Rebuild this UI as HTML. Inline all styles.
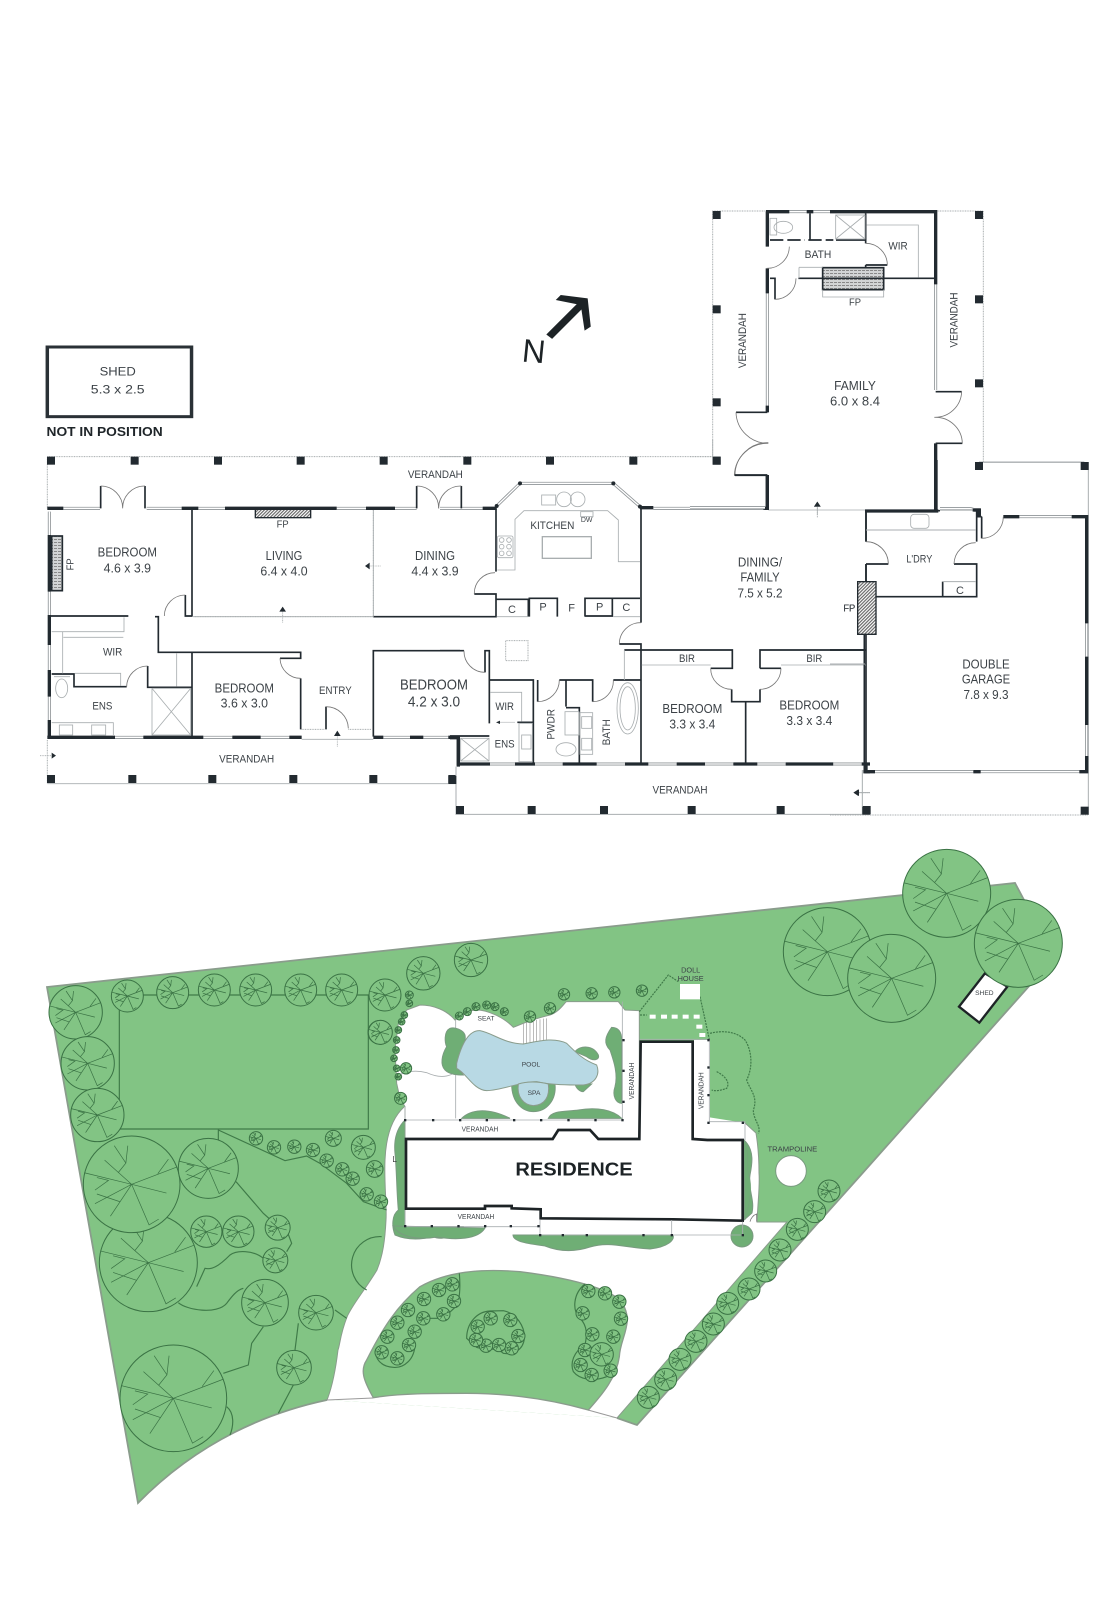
<!DOCTYPE html>
<html><head><meta charset="utf-8"><style>
html,body{margin:0;padding:0;background:#fff}
svg{display:block}
text{font-family:"Liberation Sans",sans-serif;fill:#3c4247;text-anchor:middle;font-size:39px}
.s{font-size:33px}.xs{font-size:30px}
.w{stroke:#222a30;stroke-width:10;fill:none}
.m{stroke:#222a30;stroke-width:5;fill:none}
.g{stroke:#a9aeb0;stroke-width:2.5;fill:none}
.d{stroke:#a9aeb0;stroke-width:3;fill:none;stroke-dasharray:3 2}
.a{stroke:#777;stroke-width:2.5;fill:none}
.p{fill:#222a30;stroke:none}
.ln{stroke:#3f7a48;stroke-width:3.5;fill:none}
.bed{fill:#6fae75;stroke:#7a9a80;stroke-width:3}
#t *{vector-effect:non-scaling-stroke}
.st text{font-size:23px}
</style></head><body>
<svg width="1115" height="1600" viewBox="0 0 1115 1600" xmlns="http://www.w3.org/2000/svg">
<defs>
<pattern id="h" width="7" height="7" patternUnits="userSpaceOnUse" patternTransform="rotate(45)"><rect width="7" height="7" fill="#fff"/><rect width="3.5" height="7" fill="#666"/></pattern>
<pattern id="hz" width="12" height="9" patternUnits="userSpaceOnUse"><rect width="12" height="9" fill="#d2d4d5"/><rect width="9" height="3" fill="#888"/></pattern>
<g id="t"><circle r="50" fill="#82c484" stroke="#3a7244" stroke-width="1"/><path d="M0,0L-49,-12M0,0L47,-18M0,0L36,9M0,0L-38,20M0,0L-22,33M0,0L18,42L28,36M-12,18L-36,10M-36,-7L-24,-4L-38,6M0,0L-28,-25M-14,-12L-6,-22L-4,-40M-6,-22L-18,-40M27,-11L38,-26" fill="none" stroke="#3a7244" stroke-width=".7"/></g>
</defs>

<!-- SITE PLAN -->
<path d="M47,987L1015,883L1023,898L1045,940L1030,985L860,1176L637,1425L617,1418L327,1400C270,1412 200,1440 138,1503Z" fill="#82c484"/>
<path d="M327,1400C270,1412 200,1440 138,1503L47,987L1015,883L1023,898L1045,940L1030,985L860,1176L637,1425L617,1418" fill="none" stroke="#8a9c8c" stroke-width="1.8"/>
<path d="M404,1107C392,1118 386,1135 385,1160C384,1185 387,1205 386,1220C385,1240 383,1255 377,1270C365,1290 352,1305 347,1317C340,1335 340,1345 338,1350C335,1375 331,1390 327,1400L617,1418L787,1222L757,1222C758,1200 760,1185 759,1173C759,1150 757,1140 756,1133L745,1123L600,1100Z" fill="#fff"/>
<path d="M404,1107C392,1118 386,1135 385,1160C384,1185 387,1205 386,1220C385,1240 383,1255 377,1270C365,1290 352,1305 347,1317C340,1335 340,1345 338,1350C335,1375 331,1390 327,1400M617,1418L787,1222L757,1222C758,1200 760,1185 759,1173C759,1150 757,1140 756,1133L745,1123" fill="none" stroke="#8a9c8c" stroke-width="1"/>
<path d="M327,1400L373,1398M588,1410L617,1418" stroke="#999" fill="none"/>

<g transform="translate(30,950) scale(.33333)">
<path class="ln" d="M268,135H1015V537H268ZM565,537V575M565,540L765,632L830,618L870,640L950,700L1000,755L1070,780M618,695L700,790L720,808M770,840L785,880L770,905M445,1058C470,1080 560,1095 590,1060C605,1040 620,1020 640,1015M500,1010L525,955C545,960 565,950 600,915C620,900 670,900 700,925M580,1270L655,1245L665,1180L700,1130M795,1200L805,1120M915,1080L950,1105M790,1305L745,1390M590,1370C615,1390 610,1430 600,1455M1055,860A85,85 0 0 0 1010,1020"/>
<use href="#t" transform="translate(355,938) scale(2.94)"/>
<use href="#t" transform="translate(305,703) scale(2.9)"/>
<use href="#t" transform="translate(430,1345) scale(3.2)"/>
<use href="#t" transform="translate(535,655) scale(1.8)"/>
<use href="#t" transform="translate(137,187) scale(1.6)"/>
<use href="#t" transform="translate(173,340) scale(1.6)"/>
<use href="#t" transform="translate(202,495) scale(1.6)"/>
<use href="#t" transform="translate(292,138) scale(.96)"/>
<use href="#t" transform="translate(428,128) scale(.96)"/>
<use href="#t" transform="translate(553,120) scale(.96)"/>
<use href="#t" transform="translate(677,120) scale(.96)"/>
<use href="#t" transform="translate(812,120) scale(.96)"/>
<use href="#t" transform="translate(935,120) scale(.96)"/>
<use href="#t" transform="translate(1065,135) scale(.96)"/>
<use href="#t" transform="translate(1050,247) scale(.72)"/>
<use href="#t" transform="translate(529,845) scale(.94)"/>
<use href="#t" transform="translate(625,845) scale(.94)"/>
<use href="#t" transform="translate(743,833) scale(.75)"/>
<use href="#t" transform="translate(736,931) scale(.75)"/>
<use href="#t" transform="translate(705,1058) scale(1.4)"/>
<use href="#t" transform="translate(858,1088) scale(1.04)"/>
<use href="#t" transform="translate(792,1253) scale(1.04)"/>
<use href="#t" transform="translate(1000,592) scale(.72)"/>
<use href="#t" transform="translate(1034,657) scale(.5)"/>
<use href="#t" transform="translate(678,565) scale(.4)"/>
<use href="#t" transform="translate(732,592) scale(.4)"/>
<use href="#t" transform="translate(793,590) scale(.4)"/>
<use href="#t" transform="translate(849,600) scale(.4)"/>
<use href="#t" transform="translate(910,565) scale(.48)"/>
<use href="#t" transform="translate(890,632) scale(.4)"/>
<use href="#t" transform="translate(937,658) scale(.4)"/>
<use href="#t" transform="translate(968,686) scale(.4)"/>
<use href="#t" transform="translate(1010,733) scale(.4)"/>
<use href="#t" transform="translate(1053,755) scale(.4)"/>
</g>

<g transform="translate(750,830) scale(.33333)">
<use href="#t" transform="translate(232,365) scale(2.64)"/>
<use href="#t" transform="translate(425,445) scale(2.64)"/>
<use href="#t" transform="translate(590,190) scale(2.64)"/>
<path d="M705,430L772,470L688,578L627,530Z" fill="#fff" stroke="#1d2326" stroke-width="7"/>
<use href="#t" transform="translate(805,340) scale(2.64)"/>
<text x="703" y="495" style="font-size:20px">SHED</text>
</g>

<!-- oval lawn -->
<g transform="translate(340,1230) scale(.33333)">
<path d="M100,503C70,450 60,420 80,390C130,290 170,230 240,170C320,125 420,115 540,125C620,135 700,150 760,170C820,190 860,210 862,270C860,310 840,340 838,380C830,440 790,490 745,540C620,505 500,490 380,490C280,490 180,490 100,503Z" fill="#82c484" stroke="#8a9c8c" stroke-width="4"/>
<path class="ln" d="M380,325C380,280 410,245 450,243L490,242C530,250 555,290 553,325C550,360 520,375 490,370C470,350 430,360 410,352ZM358,130C362,180 360,220 342,235L310,265L270,265M225,340C225,390 190,415 160,412C130,410 110,395 105,365M735,162C700,190 695,240 720,265C745,290 740,320 735,345C700,365 690,400 700,425C720,450 760,455 800,440"/>
<use href="#t" transform="translate(745,183) scale(.4)"/><use href="#t" transform="translate(795,190) scale(.4)"/><use href="#t" transform="translate(838,215) scale(.4)"/><use href="#t" transform="translate(843,266) scale(.4)"/><use href="#t" transform="translate(820,320) scale(.4)"/><use href="#t" transform="translate(757,313) scale(.4)"/><use href="#t" transform="translate(728,250) scale(.4)"/><use href="#t" transform="translate(735,360) scale(.4)"/><use href="#t" transform="translate(722,405) scale(.4)"/><use href="#t" transform="translate(755,435) scale(.4)"/><use href="#t" transform="translate(812,422) scale(.4)"/><use href="#t" transform="translate(785,373) scale(.7)"/>
<use href="#t" transform="translate(125,367) scale(.4)"/><use href="#t" transform="translate(172,385) scale(.4)"/><use href="#t" transform="translate(207,345) scale(.4)"/><use href="#t" transform="translate(224,305) scale(.4)"/><use href="#t" transform="translate(250,265) scale(.4)"/><use href="#t" transform="translate(310,253) scale(.4)"/><use href="#t" transform="translate(342,213) scale(.4)"/><use href="#t" transform="translate(337,163) scale(.4)"/><use href="#t" transform="translate(297,180) scale(.4)"/><use href="#t" transform="translate(252,207) scale(.4)"/><use href="#t" transform="translate(204,240) scale(.4)"/><use href="#t" transform="translate(172,278) scale(.4)"/><use href="#t" transform="translate(142,320) scale(.4)"/>
<use href="#t" transform="translate(413,290) scale(.4)"/><use href="#t" transform="translate(452,265) scale(.4)"/><use href="#t" transform="translate(511,270) scale(.4)"/><use href="#t" transform="translate(535,318) scale(.4)"/><use href="#t" transform="translate(515,355) scale(.4)"/><use href="#t" transform="translate(477,345) scale(.4)"/><use href="#t" transform="translate(438,347) scale(.4)"/><use href="#t" transform="translate(408,330) scale(.4)"/>
</g>

<!-- strip trees + trampoline -->
<g transform="translate(600,1090) scale(.33333)" class="st">
<use href="#t" transform="translate(145,922) scale(.66)"/><use href="#t" transform="translate(197,868) scale(.66)"/><use href="#t" transform="translate(240,808) scale(.66)"/><use href="#t" transform="translate(288,754) scale(.66)"/><use href="#t" transform="translate(340,702) scale(.66)"/><use href="#t" transform="translate(383,640) scale(.66)"/><use href="#t" transform="translate(447,597) scale(.66)"/><use href="#t" transform="translate(497,543) scale(.66)"/><use href="#t" transform="translate(540,480) scale(.66)"/><use href="#t" transform="translate(592,418) scale(.66)"/><use href="#t" transform="translate(644,365) scale(.66)"/><use href="#t" transform="translate(687,303) scale(.66)"/>
<circle cx="573" cy="243" r="46" fill="#fff" stroke="#7a9a80" stroke-width="3"/>
<text x="577" y="185">TRAMPOLINE</text>
<path d="M450,395C452,385 460,375 470,372V395" stroke="#777" fill="none" stroke-width="2.5"/>
</g>

<!-- west and south beds -->
<g transform="translate(340,1020) scale(.33333)">
<path class="bed" d="M195,300C175,320 160,350 165,400C170,450 170,520 175,570C155,585 155,620 165,645C200,660 240,660 280,650C310,665 340,640 370,635L370,620L195,620Z"/>
<use href="#t" transform="translate(121,37) scale(.72)"/>
<use href="#t" transform="translate(182,234) scale(.36)"/>
<path d="M160,408V425H170" stroke="#333" stroke-width="2" fill="none"/>
</g>
<path class="bed" style="stroke-width:1" d="M393,1226C400,1238 420,1240 437,1237C455,1240 478,1240 485,1228Z"/>
<path class="bed" style="stroke-width:1" d="M513,1235C513,1242 530,1244 545,1246C560,1252 575,1252 590,1247C610,1241 625,1248 650,1249C668,1247 675,1240 673,1235Z"/>
<circle cx="742" cy="1236" r="11" fill="#6fae75" stroke="#7a9a80"/>
<path class="bed" style="stroke-width:1" d="M744,1140C755,1150 752,1165 750,1175C748,1190 755,1200 752,1213L744,1220Z"/>

<!-- garden around residence -->
<g transform="translate(370,940) scale(.33333)">
<path d="M105,600V500L90,475L80,430L75,330L85,250L110,210L150,195C190,195 230,210 255,240C280,220 300,210 320,210C350,210 400,230 430,262C460,250 480,240 540,225C570,215 585,185 590,185H745L765,210L808,212V600Z" fill="#fff" stroke="#8a9c8c" stroke-width="3"/>
<path class="g" d="M80,408C110,392 140,390 170,398C200,412 225,412 245,403M257,240V535M757,185V540M105,500V540"/>
<path d="M810,298V215L895,105L925,125L935,110L990,170L1000,215L1018,298Z" fill="#82c484"/>
<path class="ln" d="M808,215L895,105L925,125M990,170L1000,215L1018,298M810,225H830M1020,280C1060,270 1100,275 1125,300C1145,330 1150,380 1130,420C1140,450 1165,470 1150,510C1150,540 1175,560 1165,580M1040,395C1070,410 1080,430 1070,445C1055,450 1040,455 1025,450" stroke-dasharray="6 3"/>
<rect x="930" y="132" width="60" height="46" fill="#fff"/>
<g fill="#fff"><rect x="839" y="224" width="18" height="12"/><rect x="873" y="224" width="18" height="12"/><rect x="905" y="224" width="18" height="12"/><rect x="938" y="224" width="18" height="12"/><rect x="971" y="224" width="18" height="12"/><rect x="979" y="254" width="18" height="12"/><rect x="988" y="279" width="18" height="12"/></g>
<use href="#t" transform="translate(160,100) scale(1)"/><use href="#t" transform="translate(303,60) scale(1)"/>
<use href="#t" transform="translate(582,163) scale(.34)"/><use href="#t" transform="translate(665,160) scale(.34)"/><use href="#t" transform="translate(733,157) scale(.34)"/><use href="#t" transform="translate(816,152) scale(.34)"/><use href="#t" transform="translate(540,205) scale(.34)"/><use href="#t" transform="translate(480,230) scale(.34)"/>
<use href="#t" transform="translate(350,195) scale(.24)"/><use href="#t" transform="translate(318,200) scale(.24)"/><use href="#t" transform="translate(292,215) scale(.24)"/><use href="#t" transform="translate(375,200) scale(.24)"/><use href="#t" transform="translate(403,215) scale(.24)"/><use href="#t" transform="translate(268,228) scale(.24)"/>
<use href="#t" transform="translate(92,475) scale(.36)"/><use href="#t" transform="translate(108,385) scale(.34)"/>
<use href="#t" transform="translate(118,165) scale(.24)"/><use href="#t" transform="translate(118,190) scale(.2)"/><use href="#t" transform="translate(103,225) scale(.2)"/><use href="#t" transform="translate(95,245) scale(.2)"/><use href="#t" transform="translate(85,270) scale(.2)"/><use href="#t" transform="translate(80,300) scale(.2)"/><use href="#t" transform="translate(78,330) scale(.2)"/><use href="#t" transform="translate(72,355) scale(.2)"/><use href="#t" transform="translate(80,385) scale(.2)"/><use href="#t" transform="translate(85,410) scale(.2)"/>
<!-- white stairs -->
<path d="M460,250V312M470,247V312M480,245V312M490,243V312M500,240V310M510,238V308M520,236V305M530,235V302" stroke="#999" stroke-width="2" fill="none"/>
<!-- beds -->
<path class="bed" d="M425,432C425,490 460,515 490,515C530,515 560,480 555,432Z"/>
<path class="bed" d="M240,265C220,275 225,310 230,320C215,345 210,375 225,390C240,405 265,405 280,405L260,380C270,340 290,310 285,285C280,270 255,260 240,265Z"/>
<path class="bed" d="M615,335C630,315 670,315 685,345C690,360 670,365 650,350Z"/>
<path class="bed" d="M615,432H665L640,455C630,455 618,445 615,432Z"/>
<path class="bed" d="M725,262C745,262 755,275 755,300V490C740,490 725,470 735,440C745,400 730,360 720,330C700,310 705,290 725,262Z"/>
<path class="bed" d="M275,535C300,510 350,500 420,535Z"/>
<path class="bed" d="M535,535C545,510 590,515 625,510C680,500 730,510 755,535Z"/>
<!-- pool -->
<path d="M260,370C270,330 290,270 330,272C370,280 400,310 460,312C500,305 550,290 590,310C620,340 640,360 680,375C690,400 680,430 640,435C600,435 540,435 500,425C450,425 400,450 350,452C310,450 290,400 260,385Z" fill="#b8d9e4" stroke="#8a9c8c" stroke-width="3"/>
<path d="M445,432C440,470 460,495 490,497C525,495 540,470 535,432C505,424 470,424 445,432Z" fill="#b8d9e4" stroke="#8a9c8c" stroke-width="3"/>
<!-- verandah east -->
<path d="M972,300H1020V545H1122V600H972Z" fill="#fff"/>
<path class="g" d="M810,298H1018V545H1125V600M105,540H757"/>
<path class="bed" style="stroke-width:1" d="M1122,600C1140,640 1130,680 1135,700C1150,740 1140,780 1125,840Z"/>
<!-- house -->
<path d="M108,597L548,597L565,570L660,570L685,597L808,597L812,305L968,305L968,597L1012,600L1118,600L1118,842L910,838L512,835L512,808L425,805L425,798L345,798L345,806L108,806Z" fill="#fff" stroke="#1d2326" stroke-width="8"/>
<path class="g" d="M105,810V860H510V840M510,860V885H1118V845M905,840V885"/>
<g class="p"><rect x="186" y="537" width="7" height="7"/><rect x="267" y="537" width="7" height="7"/><rect x="347" y="537" width="7" height="7"/><rect x="429" y="537" width="7" height="7"/><rect x="510" y="537" width="7" height="7"/><rect x="592" y="537" width="7" height="7"/><rect x="673" y="537" width="7" height="7"/><rect x="754" y="537" width="7" height="7"/><rect x="102" y="537" width="7" height="7"/>
<rect x="757" y="297" width="7" height="7"/><rect x="757" y="389" width="7" height="7"/><rect x="757" y="482" width="7" height="7"/>
<rect x="1012" y="297" width="7" height="7"/><rect x="1012" y="379" width="7" height="7"/><rect x="1012" y="462" width="7" height="7"/><rect x="1012" y="545" width="7" height="7"/><rect x="1115" y="545" width="7" height="7"/>
<rect x="102" y="855" width="7" height="7"/><rect x="182" y="855" width="7" height="7"/><rect x="262" y="855" width="7" height="7"/><rect x="342" y="855" width="7" height="7"/><rect x="419" y="855" width="7" height="7"/><rect x="502" y="855" width="7" height="7"/>
<rect x="507" y="882" width="7" height="7"/><rect x="575" y="882" width="7" height="7"/><rect x="647" y="882" width="7" height="7"/><rect x="817" y="882" width="7" height="7"/><rect x="902" y="882" width="7" height="7"/><rect x="1115" y="882" width="7" height="7"/></g>
<g style="font-size:20px">
<text x="348" y="241" style="font-size:20px">SEAT</text>
<text x="483" y="379" style="font-size:20px">POOL</text>
<text x="492" y="465" style="font-size:20px">SPA</text>
<text x="330" y="574" style="font-size:21px" textLength="110" lengthAdjust="spacingAndGlyphs">VERANDAH</text>
<text x="318" y="837" style="font-size:21px" textLength="110" lengthAdjust="spacingAndGlyphs">VERANDAH</text>
<text transform="translate(792,423) rotate(-90)" style="font-size:21px" textLength="110" lengthAdjust="spacingAndGlyphs">VERANDAH</text>
<text transform="translate(1000,452) rotate(-90)" style="font-size:21px" textLength="110" lengthAdjust="spacingAndGlyphs">VERANDAH</text>
<text x="962" y="97" style="font-size:22px">DOLL</text>
<text x="962" y="123" style="font-size:22px">HOUSE</text>
<text x="612" y="707" style="font-size:56px;font-weight:700;fill:#1d2326" textLength="352" lengthAdjust="spacingAndGlyphs">RESIDENCE</text>
</g>
</g>

<!-- SHED + NORTH -->
<g transform="translate(30,280) scale(.3846,.33333)">
<rect x="45" y="201" width="375" height="209" fill="#fff" stroke="#2a3136" stroke-width="9"/>
<text x="228" y="287" style="font-size:37px" textLength="94" lengthAdjust="spacingAndGlyphs">SHED</text>
<text x="228" y="341" style="font-size:37px" textLength="140" lengthAdjust="spacingAndGlyphs">5.3 x 2.5</text>
<text x="194" y="468" style="font-size:38px;font-weight:700;fill:#1f2529" textLength="302" lengthAdjust="spacingAndGlyphs">NOT IN POSITION</text>
<text transform="translate(1307,247) rotate(5)" style="font-size:98px;fill:#1d2326" textLength="60" lengthAdjust="spacingAndGlyphs">N</text>
<path d="M1350,170L1435,72" stroke="#1d2326" stroke-width="20" fill="none"/>
<path class="p" style="fill:#1d2326" d="M1380,45L1450,55L1458,140L1442,152L1432,75L1367,60Z"/>
</g>

<!-- FLOOR PLAN WEST -->
<g transform="translate(30,440) scale(.33333)">
<defs><path id="w1" d="M100,205H210M350,205H455M505,205H585M920,205H1008M1095,205H1160M58,215V285M58,455V525M58,615V690M58,770V840M255,892H340M520,892H607M692,892H778M1060,892H1140M1180,892H1255"/></defs>
<path class="d" d="M52,205V50H1290M52,900V1031"/>
<path class="g" d="M52,1031H1278"/>
<g class="p"><rect x="51" y="50" width="24" height="24"/><rect x="302" y="50" width="24" height="24"/><rect x="552" y="50" width="24" height="24"/><rect x="800" y="50" width="24" height="24"/><rect x="1049" y="50" width="24" height="24"/>
<rect x="51" y="1005" width="24" height="24"/><rect x="295" y="1005" width="24" height="24"/><rect x="535" y="1005" width="24" height="24"/><rect x="778" y="1005" width="24" height="24"/><rect x="1018" y="1005" width="24" height="24"/><rect x="1255" y="1005" width="24" height="24"/></g>
<use href="#w1" stroke="#8f9497" stroke-width="9" fill="none"/><use href="#w1" stroke="#fff" stroke-width="4" fill="none"/>
<path class="w" d="M52,205H100M455,205H505M585,205H920M1008,205H1095M58,285V455M58,525V615M58,690V770M58,840V892M52,892H255M340,892H520M607,892H692M778,892H815M1030,892H1060M1140,892H1180M1255,892H1290M1285,892V980"/>
<path class="m" d="M212,205V138M345,138V205M1160,138V205M486,205V530M466,465V528H486M375,530H385V637H812V655H750M812,715V868M888,800V868M62,528H295M65,702H132V740H290M353,678V742H486M486,637V890M1030,530H1290M1030,890V632H1290"/>
<path class="a" d="M212,138A66,66 0 0 1 278,205M345,138A66,66 0 0 0 278,205M1160,138A66,66 0 0 1 1226,205M466,465A63,63 0 0 0 403,528M290,740A63,63 0 0 1 353,678M750,655A62,62 0 0 0 812,715M888,800A67,67 0 0 1 955,865"/>
<rect x="65" y="288" width="32" height="164" fill="url(#hz)" stroke="#222a30" stroke-width="5"/>
<rect x="676" y="208" width="166" height="25" fill="url(#h)" stroke="#222a30" stroke-width="4"/>
<path class="g" d="M65,575H282V532M98,575V700M135,700H272V738M440,640V740M1030,210V530M490,530H1030M815,898H1030M100,592H280"/>
<path class="d" d="M490,530H1030M1030,210V530M815,868H885M955,868H1025"/>
<rect x="366" y="745" width="116" height="140" fill="none" class="g"/><path class="g" d="M366,745L482,885M482,745L366,885"/>
<ellipse cx="95" cy="745" rx="18" ry="28" class="g"/><path class="g" d="M72,710H120M65,848H250V885"/><rect class="g" x="88" y="855" width="40" height="30"/><rect class="g" x="185" y="855" width="42" height="30"/>
<path class="g" d="M30,947H65M758,548V510M1052,378H1020M922,920V880" stroke-dasharray="3 2"/>
<path class="p" d="M65,938L78,947L65,956ZM758,500L768,515H748ZM1005,378L1019,368V388ZM922,872L932,888H912Z"/>
<text x="292" y="350" textLength="178" lengthAdjust="spacingAndGlyphs">BEDROOM</text>
<text x="292" y="397" textLength="142" lengthAdjust="spacingAndGlyphs">4.6 x 3.9</text>
<text x="762" y="360" textLength="110" lengthAdjust="spacingAndGlyphs">LIVING</text>
<text x="762" y="406" textLength="142" lengthAdjust="spacingAndGlyphs">6.4 x 4.0</text>
<text x="1215" y="360" textLength="120" lengthAdjust="spacingAndGlyphs">DINING</text>
<text x="1215" y="406" textLength="142" lengthAdjust="spacingAndGlyphs">4.4 x 3.9</text>
<text x="643" y="757" textLength="178" lengthAdjust="spacingAndGlyphs">BEDROOM</text>
<text x="643" y="803" textLength="142" lengthAdjust="spacingAndGlyphs">3.6 x 3.0</text>
<text x="1212" y="748" style="font-size:44px" textLength="204" lengthAdjust="spacingAndGlyphs">BEDROOM</text>
<text x="1212" y="800" style="font-size:44px" textLength="157" lengthAdjust="spacingAndGlyphs">4.2 x 3.0</text>
<text class="s" x="916" y="762" textLength="98" lengthAdjust="spacingAndGlyphs">ENTRY</text>
<text class="s" x="248" y="647" textLength="58" lengthAdjust="spacingAndGlyphs">WIR</text>
<text class="s" x="217" y="808" textLength="60" lengthAdjust="spacingAndGlyphs">ENS</text>
<text class="s" x="650" y="968" textLength="165" lengthAdjust="spacingAndGlyphs">VERANDAH</text>
<text class="s" x="1216" y="114" textLength="165" lengthAdjust="spacingAndGlyphs">VERANDAH</text>
<text class="xs" x="758" y="263" textLength="36" lengthAdjust="spacingAndGlyphs">FP</text>
<text class="xs" transform="translate(130,373) rotate(-90)" textLength="36" lengthAdjust="spacingAndGlyphs">FP</text>
</g>

<!-- FLOOR PLAN CENTRE -->
<g transform="translate(440,440) scale(.33333)">
<defs><path id="w2" d="M0,205H64M64,205H128M170,198L240,130H520L600,200M640,205H970M150,972H225M285,972H368M470,972H555M625,972H710M795,972H880M952,972H1037M1180,972H1265"/></defs>
<path class="d" d="M0,50H818V0"/>
<path class="g" d="M48,980V1123H1290" style="stroke-width:3"/>
<g class="p"><rect x="70" y="50" width="24" height="24"/><rect x="318" y="50" width="24" height="24"/><rect x="568" y="50" width="24" height="24"/><rect x="818" y="50" width="24" height="24"/><rect x="25" y="1008" width="24" height="24"/>
<rect x="48" y="1098" width="24" height="24"/><rect x="263" y="1098" width="24" height="24"/><rect x="480" y="1098" width="24" height="24"/><rect x="743" y="1098" width="24" height="24"/><rect x="1010" y="1098" width="24" height="24"/><rect x="1268" y="1098" width="24" height="24"/></g>
<use href="#w2" stroke="#8f9497" stroke-width="9" fill="none"/><use href="#w2" stroke="#fff" stroke-width="4" fill="none"/>
<path class="w" d="M128,205H170M600,203H640M970,205H985M982,108V205M50,972H150M225,972H285M368,972H470M555,972H625M710,972H795M880,972H952M1037,972H1180M1265,972H1290M30,893H55V972M1278,972V995H1290"/>
<circle cx="240" cy="130" r="6" class="p"/><circle cx="520" cy="130" r="6" class="p"/><circle cx="170" cy="198" r="6" class="p"/><circle cx="600" cy="200" r="6" class="p"/>
<path class="m" d="M64,138V205M885,106H982M168,205V395M103,462H168V530H0M170,478H265V530M268,530V475H352V530M435,530V475H600M435,528H517V475M603,205V548M538,612H603V970M0,632H72M135,697V632H148V850M148,720H280V970M293,720V785M358,720H378V800M378,803H418V970M378,720H458V785M520,720H603M553,630H603M605,630H877V685H812M875,748V785H960V748M960,685H1023M960,685V630H1278M917,785V970M1278,372V425M1278,582V970M1278,210V305M232,847H280M148,888H30"/>
<path class="a" d="M64,138A66,66 0 0 0 -4,205M885,106A98,98 0 0 1 985,8M165,398A62,62 0 0 0 103,462M72,632A63,63 0 0 0 135,697M293,785A65,65 0 0 0 358,720M458,785A62,62 0 0 0 520,720M603,548A64,64 0 0 0 538,612M812,685A63,63 0 0 0 875,748M960,748A63,63 0 0 0 1023,685"/>
<rect x="1253" y="425" width="40" height="157" fill="url(#h)" stroke="#222a30" stroke-width="4"/>
<path class="g" d="M172,390H225V238L252,212H503L535,240V365H600M553,630V720M605,675H812M1023,675H1278M985,210H1278M150,757H245V845M170,530H265M520,530H600"/>
<rect class="g" x="307" y="290" width="147" height="65" style="stroke-width:4"/>
<rect class="g" x="172" y="288" width="47" height="65" rx="5"/>
<circle class="g" cx="185" cy="300" r="7"/><circle class="g" cx="207" cy="300" r="7"/><circle class="g" cx="185" cy="320" r="7"/><circle class="g" cx="207" cy="320" r="7"/><circle class="g" cx="185" cy="340" r="7"/><circle class="g" cx="207" cy="340" r="7"/>
<rect class="g" x="305" y="165" width="42" height="30"/><circle class="g" cx="372" cy="178" r="22"/><circle class="g" cx="413" cy="178" r="22"/>
<rect class="g" x="422" y="215" width="37" height="15"/>
<rect x="197" y="602" width="67" height="60" class="d" stroke-dasharray="6 5"/>
<rect class="g" x="62" y="895" width="85" height="68"/><path class="g" d="M62,895L147,963M147,895L62,963"/>
<rect class="g" x="237" y="850" width="40" height="115"/><rect class="g" x="245" y="885" width="28" height="42"/>
<rect class="g" x="375" y="815" width="42" height="70"/><ellipse class="g" cx="378" cy="928" rx="30" ry="20"/>
<rect class="g" x="420" y="818" width="38" height="125"/><rect class="g" x="425" y="830" width="30" height="35"/><rect class="g" x="425" y="895" width="30" height="35"/>
<ellipse class="g" cx="563" cy="805" rx="32" ry="77"/><ellipse class="g" cx="563" cy="805" rx="23" ry="65"/>
<path class="g" d="M1132,232V200M1290,1058H1255M175,847H225" stroke-dasharray="4 2"/>
<path class="p" d="M1132,185L1142,200H1122ZM1240,1058L1255,1048V1068ZM168,847L180,842V852Z"/>
<text class="s" x="337" y="267" textLength="132" lengthAdjust="spacingAndGlyphs">KITCHEN</text>
<text x="440" y="246" style="font-size:21px">DW</text>
<text class="s" x="216" y="519">C</text><text class="s" x="309" y="512">P</text><text class="s" x="395" y="514">F</text><text class="s" x="479" y="512">P</text><text class="s" x="559" y="513">C</text>
<text x="960" y="380" textLength="133" lengthAdjust="spacingAndGlyphs">DINING/</text>
<text x="960" y="425" textLength="118" lengthAdjust="spacingAndGlyphs">FAMILY</text>
<text x="960" y="472" textLength="135" lengthAdjust="spacingAndGlyphs">7.5 x 5.2</text>
<text class="xs" x="1228" y="515" textLength="36" lengthAdjust="spacingAndGlyphs">FP</text>
<text class="s" x="741" y="666" textLength="48" lengthAdjust="spacingAndGlyphs">BIR</text>
<text class="s" x="1123" y="666" textLength="48" lengthAdjust="spacingAndGlyphs">BIR</text>
<text x="757" y="819" textLength="180" lengthAdjust="spacingAndGlyphs">BEDROOM</text>
<text x="757" y="865" textLength="138" lengthAdjust="spacingAndGlyphs">3.3 x 3.4</text>
<text x="1108" y="809" textLength="180" lengthAdjust="spacingAndGlyphs">BEDROOM</text>
<text x="1108" y="855" textLength="138" lengthAdjust="spacingAndGlyphs">3.3 x 3.4</text>
<text class="s" x="194" y="810" textLength="56" lengthAdjust="spacingAndGlyphs">WIR</text>
<text class="s" x="194" y="923" textLength="60" lengthAdjust="spacingAndGlyphs">ENS</text>
<text class="s" transform="translate(343,853) rotate(-90)" textLength="92" lengthAdjust="spacingAndGlyphs">PWDR</text>
<text class="s" transform="translate(510,877) rotate(-90)" textLength="78" lengthAdjust="spacingAndGlyphs">BATH</text>
<text class="s" x="720" y="1060" textLength="165" lengthAdjust="spacingAndGlyphs">VERANDAH</text>
</g>

<!-- FAMILY WING -->
<g transform="translate(690,195) scale(.33333)">
<defs><path id="w3" d="M298,50H350M370,50H420M232,295V650M737,268V585M0,938H225M750,942H850"/></defs>
<path class="d" d="M68,780V48H230M740,48H880V800M0,785H68"/>
<path class="g" d="M880,802H1170" style="stroke-width:3"/>
<g class="p"><rect x="68" y="48" width="24" height="24"/><rect x="68" y="331" width="24" height="24"/><rect x="68" y="610" width="24" height="24"/><rect x="68" y="785" width="24" height="24"/><rect x="855" y="48" width="24" height="24"/><rect x="855" y="301" width="24" height="24"/><rect x="855" y="553" width="24" height="24"/><rect x="855" y="801" width="24" height="24"/></g>
<use href="#w3" stroke="#8f9497" stroke-width="9" fill="none"/><use href="#w3" stroke="#fff" stroke-width="4" fill="none"/>
<path class="w" d="M228,50H298M350,50H370M420,50H742M737,50V268M232,50V155M232,220V295M232,632V652M232,840V945M737,745V945M525,948H745M852,945H866V965"/>
<path class="m" d="M360,55V135M438,135H527M527,55V145M527,210H592M527,210V218M325,250H398M580,250H737M240,250H255V313M138,652H232M133,840H232M737,590H815M737,745H817"/>
<path d="M240,135H345M355,135H430" stroke="#222a30" stroke-width="5" stroke-dasharray="40 12" fill="none"/>
<path class="a" d="M298,155A66,66 0 0 1 230,220M527,145A65,65 0 0 1 592,210M318,250A63,63 0 0 1 255,313M138,652A96,96 0 0 0 235,745M133,840A100,100 0 0 1 235,745M815,590A80,80 0 0 1 733,667M733,667A80,80 0 0 1 817,745"/>
<rect x="398" y="218" width="183" height="66" fill="url(#hz)" stroke="#222a30" stroke-width="5"/>
<path class="m" d="M398,250H581"/>
<path class="g" d="M398,284V306H581V284M327,217H398M327,217V250M530,90H685V248M382,960V930"/>
<rect class="g" x="437" y="60" width="88" height="72"/><path class="g" d="M437,60L525,132M525,60L437,132"/>
<ellipse class="g" cx="280" cy="97" rx="28" ry="18"/><rect class="g" x="240" y="70" width="20" height="50"/>
<path class="p" d="M382,920L392,935H372Z"/>
<text x="495" y="585" textLength="125" lengthAdjust="spacingAndGlyphs">FAMILY</text>
<text x="495" y="632" textLength="150" lengthAdjust="spacingAndGlyphs">6.0 x 8.4</text>
<text class="s" x="384" y="189" textLength="80" lengthAdjust="spacingAndGlyphs">BATH</text>
<text class="s" x="624" y="164" textLength="58" lengthAdjust="spacingAndGlyphs">WIR</text>
<text class="xs" x="495" y="332" textLength="36" lengthAdjust="spacingAndGlyphs">FP</text>
<text class="s" transform="translate(168,437) rotate(-90)" textLength="165" lengthAdjust="spacingAndGlyphs">VERANDAH</text>
<text class="s" transform="translate(803,375) rotate(-90)" textLength="165" lengthAdjust="spacingAndGlyphs">VERANDAH</text>
</g>

<!-- GARAGE -->
<g transform="translate(830,460) scale(.33333)">
<defs><path id="w4" d="M330,146H425M568,170H725M770,490V590M770,795V888M135,935H430M452,935H748M10,912H92"/></defs>
<path class="g" d="M447,6H763M775,6V1065M97,930V1065" style="stroke-width:3"/>
<path class="d" d="M0,1065H775"/>
<g class="p"><rect x="435" y="6" width="24" height="24"/><rect x="752" y="6" width="24" height="24"/><rect x="97" y="1040" width="24" height="24"/><rect x="752" y="1040" width="24" height="24"/></g>
<use href="#w4" stroke="#8f9497" stroke-width="9" fill="none"/><use href="#w4" stroke="#fff" stroke-width="4" fill="none"/>
<path class="w" d="M318,0V152M520,170H568M725,170H775M770,170V490M770,590V795M770,888V935M748,935H775M430,935H452M100,935H135M428,150H448V170"/>
<path class="m" d="M108,152H330M440,150V245M455,170V235M440,170H455M108,152V245M108,312H175M108,312V365M138,410H440V312H372M338,365V410M0,570H105M103,525V935"/>
<path class="a" d="M455,235A65,65 0 0 0 520,170M108,245A67,67 0 0 1 175,312M372,312A65,65 0 0 1 437,248"/>
<rect x="83" y="365" width="55" height="158" fill="url(#h)" stroke="#222a30" stroke-width="4"/>
<path class="g" d="M108,210H437M338,365H437M0,612H105M120,998H85" style="stroke-width:3"/>
<rect class="g" x="242" y="163" width="55" height="42" rx="10"/>
<path class="p" d="M72,998L87,988V1008Z"/>
<text class="s" x="268" y="308" textLength="78" lengthAdjust="spacingAndGlyphs">L'DRY</text>
<text class="s" x="390" y="402">C</text>
<text class="xs" x="58" y="454" textLength="36" lengthAdjust="spacingAndGlyphs">FP</text>
<text x="468" y="626" textLength="142" lengthAdjust="spacingAndGlyphs">DOUBLE</text>
<text x="468" y="671" textLength="145" lengthAdjust="spacingAndGlyphs">GARAGE</text>
<text x="468" y="717" textLength="135" lengthAdjust="spacingAndGlyphs">7.8 x 9.3</text>
</g>
</svg>
</body></html>
